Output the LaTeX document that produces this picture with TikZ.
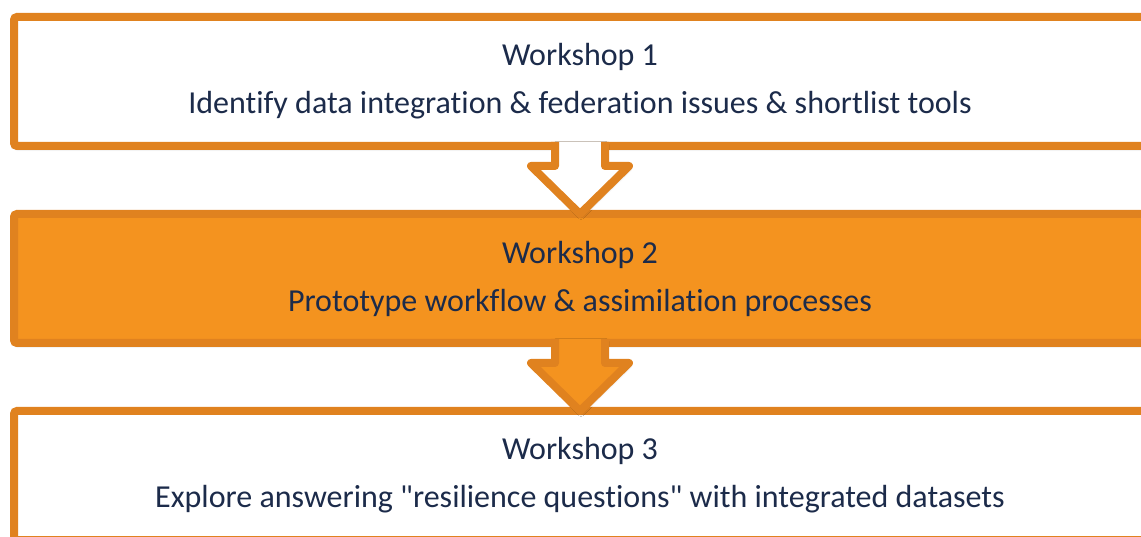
\documentclass[tikz,border=0pt]{standalone}
\usepackage{fontspec}
\setmainfont{Carlito}[Ligatures={TeXOff,CommonOff}]
\usetikzlibrary{positioning,calc,shadows.blur}

\definecolor{wsline}{HTML}{E0821F}
\definecolor{wsfill}{HTML}{F4931F}
\definecolor{wstext}{HTML}{1C2B4A}

\tikzset{
  wsbox/.style={draw=wsline, line width=8pt, rounded corners=3pt, fill=white,
                minimum width=1132pt, minimum height=129pt, inner sep=0pt, outer sep=0pt,
                align=center, text=wstext, font=\fontsize{32}{48}\selectfont,
                blur shadow={shadow xshift=1pt, shadow yshift=-2.5pt, shadow opacity=30,
                             shadow blur steps=6, shadow blur radius=3pt}},
  wsarrow/.style={draw=wsline, line width=8pt, line join=round}
}

\begin{document}
\begin{tikzpicture}[x=1pt,y=1pt]
  \pgfmathsetmacro\shaft{25}   % half width of the arrow shaft
  \pgfmathsetmacro\head{49}    % half width of the arrow head
  \pgfmathsetmacro\neck{20}    % shaft length below a box

  \clip (0,0) rectangle (1141,536);

% the three workshop boxes
  \node[wsbox] (ws1) at (580,454.5) {Workshop 1\\Identify data integration \& federation issues \& shortlist tools};
  \node[wsbox, fill=wsfill, below=68pt of ws1] (ws2) {Workshop 2\\Prototype workflow \& assimilation processes};
  \node[wsbox, below=68pt of ws2] (ws3) {Workshop 3\\Explore answering "resilience questions" with integrated datasets};

% block arrows from box to box
  \foreach \a/\b/\c in {ws1/ws2/white, ws2/ws3/wsfill}{
    \fill[\c, blur shadow={shadow xshift=1pt, shadow yshift=-2.5pt, shadow opacity=30,
                          shadow blur steps=6, shadow blur radius=3pt}]
          ($(\a.south)+(-\shaft,4)$) -- ($(\a.south)+(-\shaft,-\neck)$) -- ($(\a.south)+(-\head,-\neck)$)
          -- (\b.north) -- ($(\a.south)+(\head,-\neck)$) -- ($(\a.south)+(\shaft,-\neck)$)
          -- ($(\a.south)+(\shaft,4)$) -- cycle;
    \draw[wsarrow]
          ($(\a.south)+(-\shaft,4)$) -- ($(\a.south)+(-\shaft,-\neck)$) -- ($(\a.south)+(-\head,-\neck)$)
          -- (\b.north) -- ($(\a.south)+(\head,-\neck)$) -- ($(\a.south)+(\shaft,-\neck)$)
          -- ($(\a.south)+(\shaft,4)$);
  }
\end{tikzpicture}
\end{document}
